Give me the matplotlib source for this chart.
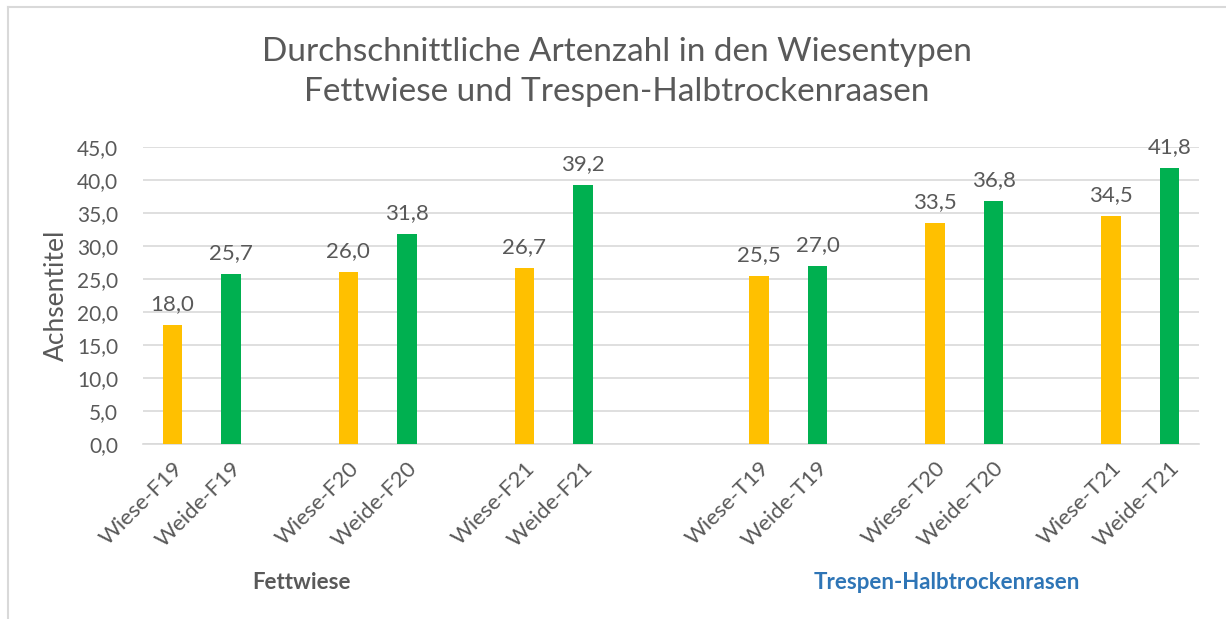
import matplotlib.pyplot as plt
from matplotlib.lines import Line2D

plt.rcParams['font.family'] = ['Lato', 'DejaVu Sans']

# slot positions on the category axis (empty slots are gaps in the original chart)
labels = ['Wiese-F19', 'Weide-F19', '', 'Wiese-F20', 'Weide-F20', '',
          'Wiese-F21', 'Weide-F21', '', '', 'Wiese-T19', 'Weide-T19', '',
          'Wiese-T20', 'Weide-T20', '', 'Wiese-T21', 'Weide-T21']
wiese_pos = [0, 3, 6, 10, 13, 16]
weide_pos = [1, 4, 7, 11, 14, 17]
wiese_vals = [18.0, 26.0, 26.7, 25.5, 33.5, 34.5]
weide_vals = [25.7, 31.8, 39.2, 27.0, 36.8, 41.8]
groups = ['Fettwiese', 'Trespen-Halbtrockenrasen']
group_centers = [2.2, 13.2]
group_colors = ['#595959', '#2E75B6']

text_col = '#595959'

fig = plt.figure(figsize=(12.26, 6.19), dpi=100)
ax = fig.add_axes([0.1166, 0.2827, 0.8615, 0.4798])

b1 = ax.bar(wiese_pos, wiese_vals, width=0.33, color='#FFC000', zorder=3)
b2 = ax.bar(weide_pos, weide_vals, width=0.33, color='#00B050', zorder=3)
for bars in (b1, b2):
    for r in bars:
        h = r.get_height()
        ax.annotate(f'{h:.1f}'.replace('.', ','), (r.get_x() + r.get_width() / 2, h),
                    xytext=(0, 8), textcoords='offset points', ha='center', va='bottom',
                    fontsize=16, color=text_col)

ax.set_xlim(-0.5, len(labels) - 0.5)
ax.set_ylim(0, 45)
ax.set_yticks(range(0, 46, 5))
ax.set_yticklabels([f'{v:.1f}'.replace('.', ',') for v in range(0, 46, 5)])
ax.yaxis.grid(True, color='#D9D9D9', linewidth=1.2, zorder=0)
ax.set_axisbelow(True)

tick_pos = [i for i, l in enumerate(labels) if l]
ax.set_xticks(tick_pos)
ax.set_xticklabels([labels[i] for i in tick_pos], rotation=45, ha='right', va='top',
                   rotation_mode='anchor')
ax.tick_params(axis='both', length=0, labelcolor=text_col)
ax.tick_params(axis='x', labelsize=16, pad=10)
ax.tick_params(axis='y', labelsize=15, pad=18)

for s in ['top', 'right', 'left']:
    ax.spines[s].set_visible(False)
ax.spines['bottom'].set_color('#D9D9D9')
ax.spines['bottom'].set_linewidth(1.2)

ax.set_ylabel('Achsentitel', fontsize=19, color=text_col, labelpad=6)

for g, c, col in zip(groups, group_centers, group_colors):
    ax.text(c, -0.465, g, transform=ax.get_xaxis_transform(), ha='center', va='center',
            fontsize=16, fontweight='bold', color=col)

fig.text(0.503, 0.884, 'Durchschnittliche Artenzahl in den Wiesentypen\nFettwiese und Trespen-Halbtrockenraasen',
         ha='center', va='center', fontsize=24, color=text_col, linespacing=1.4)

# chart frame (only top and left edges visible in the original crop)
fig.add_artist(Line2D([0.0065, 0.0065], [0, 0.989], color='#D9D9D9', linewidth=1.5))
fig.add_artist(Line2D([0.0065, 1.0], [0.989, 0.989], color='#D9D9D9', linewidth=1.5))

fig.savefig('out.png', dpi=100)
